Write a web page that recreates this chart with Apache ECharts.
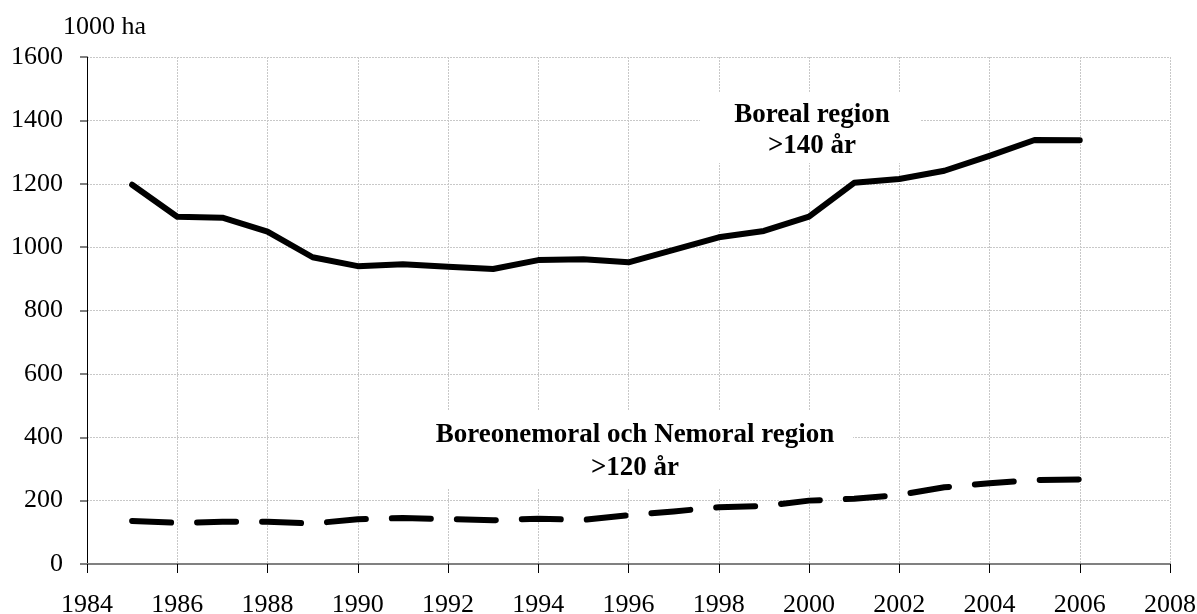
<!DOCTYPE html>
<html>
<head>
<meta charset="utf-8">
<script src="https://cdn.jsdelivr.net/npm/echarts@6/dist/echarts.min.js"></script>
<style>
  html, body { margin: 0; padding: 0; background: #fff; }
  #main { width: 1197px; height: 614px; }
</style>
</head>
<body>
<div id="main"></div>
<script>
    // data
    var years = [1985, 1986, 1987, 1988, 1989, 1990, 1991, 1992, 1993, 1994, 1995,
                 1996, 1997, 1998, 1999, 2000, 2001, 2002, 2003, 2004, 2005, 2006];
    var boreal = [1197, 1096, 1093, 1049, 968, 940, 946, 938, 931, 959, 962,
                  952, 991, 1031, 1051, 1096, 1203, 1215, 1241, 1288, 1338, 1337];
    var boreonemoral = [136, 130, 133, 133, 128, 141, 145, 142, 138, 143, 139,
                        154, 166, 179, 183, 200, 206, 218, 242, 255, 265, 267];
    var labelBoreal = 'Boreal region\n>140 år';
    var labelNemoral = 'Boreonemoral och Nemoral region\n>120 år';
    var yUnit = '1000 ha';

    var pairs = function (xs, ys) {
        var out = [];
        for (var i = 0; i < xs.length; i++) {
            out.push([xs[i], ys[i]]);
        }
        return out;
    };
    // plain numbers, no thousands separator
    var plain = function (v) { return String(v); };

    var font = '"Liberation Serif", "DejaVu Serif", serif';
    var myChart = echarts.init(document.getElementById('main'));

    var option = {
        animation: false,
        backgroundColor: '#fff',
        title: {
            text: yUnit,
            left: 58,
            top: 9,
            textStyle: { fontFamily: font, fontSize: 26, fontWeight: 'normal', color: '#000' }
        },
        grid: { left: 87, right: 27, top: 57, bottom: 50, outerBoundsMode: 'none', containLabel: false },
        xAxis: {
            type: 'value',
            min: 1984,
            max: 2008,
            interval: 2,
            axisLine: { lineStyle: { color: '#808080', width: 2 } },
            axisTick: { length: 9, lineStyle: { color: '#000' } },
            axisLabel: { fontFamily: font, fontSize: 26, color: '#000', margin: 28, formatter: plain },
            splitLine: { show: true, lineStyle: { color: '#c8c8c8', type: [2, 1] } }
        },
        yAxis: {
            type: 'value',
            min: 0,
            max: 1600,
            interval: 200,
            axisLine: { show: true, lineStyle: { color: '#000', width: 1 } },
            axisTick: { show: true, length: 7, lineStyle: { color: '#808080', width: 2 } },
            axisLabel: { fontFamily: font, fontSize: 26, color: '#000', margin: 24, formatter: plain },
            splitLine: { show: true, lineStyle: { color: '#c8c8c8', type: [2, 1] } }
        },
        graphic: [
            { type: 'rect', z: 1, shape: { x: 700, y: 92, width: 220, height: 71 }, style: { fill: '#fff' } },
            { type: 'text', z: 2, x: 812, y: 100,
              style: { text: labelBoreal, font: 'bold 27px ' + font, fill: '#000', align: 'center', lineHeight: 31 } },
            { type: 'rect', z: 1, shape: { x: 360, y: 410, width: 493, height: 78 }, style: { fill: '#fff' } },
            { type: 'text', z: 2, x: 635, y: 419,
              style: { text: labelNemoral, font: 'bold 27px ' + font, fill: '#000', align: 'center', lineHeight: 33 } }
        ],
        series: [
            {
                type: 'line',
                z: 3,
                data: pairs(years, boreal),
                symbol: 'none',
                lineStyle: { color: '#000', width: 6, cap: 'round', join: 'round' }
            },
            {
                type: 'line',
                z: 3,
                data: pairs(years, boreonemoral),
                symbol: 'none',
                lineStyle: { color: '#000', width: 6, type: [39, 26], cap: 'round', join: 'round' }
            }
        ]
    };
    myChart.setOption(option);
</script>
</body>
</html>
